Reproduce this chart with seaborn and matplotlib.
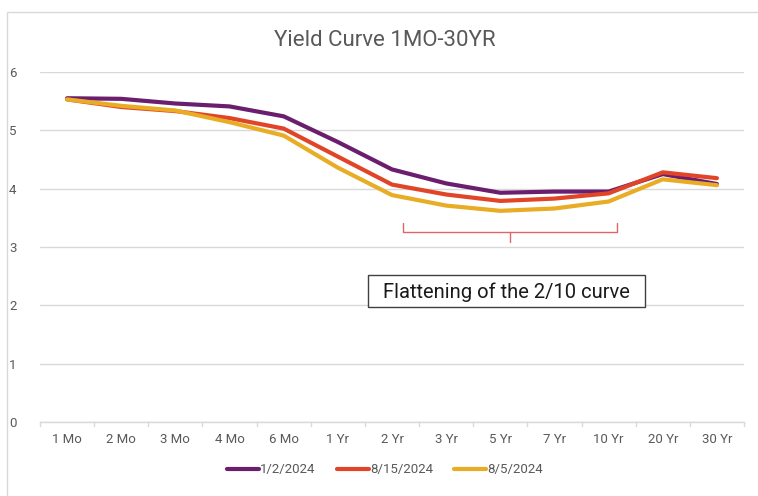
import matplotlib
matplotlib.use("Agg")
import matplotlib.pyplot as plt
from matplotlib.patches import Rectangle
import seaborn as sns
import pandas as pd

maturities = ["1 Mo", "2 Mo", "3 Mo", "4 Mo", "6 Mo", "1 Yr", "2 Yr",
              "3 Yr", "5 Yr", "7 Yr", "10 Yr", "20 Yr", "30 Yr"]
yields_jan02 = [5.55, 5.54, 5.46, 5.41, 5.24, 4.80, 4.33, 4.09, 3.93, 3.95, 3.95, 4.25, 4.08]
yields_aug15 = [5.53, 5.40, 5.33, 5.21, 5.03, 4.55, 4.07, 3.90, 3.79, 3.83, 3.92, 4.28, 4.18]
yields_aug05 = [5.53, 5.42, 5.34, 5.14, 4.91, 4.36, 3.89, 3.71, 3.62, 3.66, 3.78, 4.16, 4.06]
series_names = ["1/2/2024", "8/15/2024", "8/5/2024"]
colors = ["#6B1E6E", "#E04527", "#E8AC25"]

rows = []
for name, vals in zip(series_names, [yields_jan02, yields_aug15, yields_aug05]):
    for i, (m, v) in enumerate(zip(maturities, vals)):
        rows.append({"pos": i, "maturity": m, "yield": v, "date": name})
df = pd.DataFrame(rows)

sns.set_theme(style="white")
plt.rcParams["font.family"] = ["Roboto", "DejaVu Sans"]

fig = plt.figure(figsize=(7.58, 4.96), dpi=100)
W, H = 758, 496
ax = fig.add_axes([40 / W, 1 - 422 / H, (744 - 40) / W, (422 - 72) / H])

# outer chart frame
fig.patches.append(Rectangle((7 / W, -0.05), 1.2, 1 - 12 / H + 0.05,
                             transform=fig.transFigure, fill=False,
                             edgecolor="#D9D9D9", lw=1.0))

sns.lineplot(data=df, x="pos", y="yield", hue="date", hue_order=series_names,
             palette=colors, linewidth=3, ax=ax, legend=False, sort=False)

ax.set_xlim(-0.5, 12.5)
ax.set_ylim(0, 6)
ax.set_yticks(range(0, 7))
ax.set_xticks(range(len(maturities)))
ax.set_xticklabels(maturities)
ax.yaxis.grid(True, color="#D9D9D9", lw=1)
ax.set_axisbelow(True)
for s in ["top", "right", "left"]:
    ax.spines[s].set_visible(False)
ax.spines["bottom"].set_color("#D9D9D9")
ax.spines["bottom"].set_linewidth(1)
ax.tick_params(axis="x", length=0, pad=8, labelsize=9.5, labelcolor="#595959")
ax.tick_params(axis="y", length=0, pad=17, labelsize=9.5, labelcolor="#595959")
ax.set_xlabel("")
ax.set_ylabel("")

# category boundary tick marks
for b in [i - 0.5 for i in range(len(maturities) + 1)]:
    ax.plot([b, b], [0, -0.07], color="#D9D9D9", lw=1, clip_on=False)

fig.text(385 / W, 1 - 40 / H, "Yield Curve 1MO-30YR", ha="center", va="center",
         fontsize=16, color="#595959")

# brace over the 2Yr-10Yr section
bc = "#E06666"
x0, x1, xm = 6.2, 10.16, 8.18
ax.plot([x0, x0, x1, x1], [3.41, 3.25, 3.25, 3.41], color=bc, lw=1)
ax.plot([xm, xm], [3.25, 3.09], color=bc, lw=1)

# annotation box
fig.patches.append(Rectangle((368 / W, 1 - 307 / H), (645 - 368) / W, 32 / H,
                             transform=fig.transFigure, fc="white",
                             ec="#404040", lw=1, zorder=5))
fig.text(506 / W, 1 - 292 / H, "Flattening of the 2/10 curve", ha="center",
         va="center", fontsize=14.5, color="#1a1a1a", zorder=6)

handles = [plt.Line2D([], [], color=c, lw=3) for c in colors]
fig.legend(handles, series_names, loc="center", bbox_to_anchor=(385 / W, 1 - 470 / H),
           ncol=3, frameon=False, fontsize=9.5, handlelength=2.4, handletextpad=0.1,
           columnspacing=1.6, labelcolor="#595959")

fig.savefig("out.png", dpi=100, facecolor="white")
